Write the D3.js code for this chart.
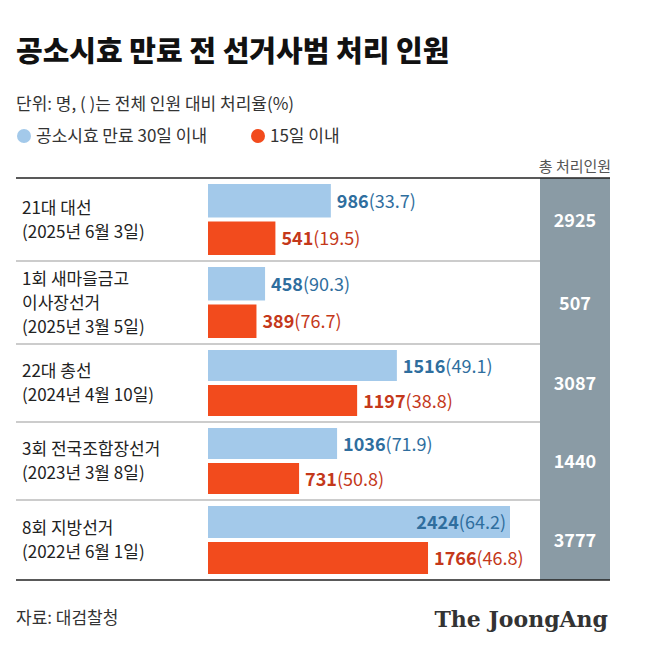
<html>
<head>
<script src="https://cdnjs.cloudflare.com/ajax/libs/d3/7.8.5/d3.min.js"></script>
<style>body{margin:0;background:#fff;font-family:"Noto Sans CJK KR","Noto Sans",sans-serif;}</style>
</head>
<body>
<div id="graph"></div>
<script>
// data
var labels1 = ["21대 대선", "1회 새마을금고", "22대 총선", "3회 전국조합장선거", "8회 지방선거"];
var labels2 = ["(2025년 6월 3일)", "이사장선거", "(2024년 4월 10일)", "(2023년 3월 8일)", "(2022년 6월 1일)"];
var labels3 = [null, "(2025년 3월 5일)", null, null, null];
var within30 = [986, 458, 1516, 1036, 2424];
var pct30 = [33.7, 90.3, 49.1, 71.9, 64.2];
var within15 = [541, 389, 1197, 731, 1766];
var pct15 = [19.5, 76.7, 38.8, 50.8, 46.8];
var totals = [2925, 507, 3087, 1440, 3777];
var bands = [[178, 261], [261, 344], [344, 422], [422, 500], [500, 580]];

var W = 650, H = 661;
var svg = d3.select("#graph").append("svg").attr("width", W).attr("height", H);
var x = d3.scaleLinear().domain([0, 2424]).range([208, 510]);
var blue = "#a3c9ea", red = "#f24b1d";

svg.append("text").attr("x", 16).attr("y", 62).attr("font-size", 29).attr("font-weight", 900)
  .attr("fill", "#111").text("공소시효 만료 전 선거사범 처리 인원");
svg.append("text").attr("x", 16).attr("y", 110).attr("font-size", 17).attr("fill", "#333")
  .text("단위: 명, ( )는 전체 인원 대비 처리율(%)");
svg.append("circle").attr("cx", 24).attr("cy", 136).attr("r", 7).attr("fill", blue);
svg.append("text").attr("x", 36).attr("y", 142).attr("font-size", 17).attr("fill", "#333").text("공소시효 만료 30일 이내");
svg.append("circle").attr("cx", 258).attr("cy", 136).attr("r", 7).attr("fill", red);
svg.append("text").attr("x", 270).attr("y", 142).attr("font-size", 17).attr("fill", "#333").text("15일 이내");

svg.append("text").attr("x", 575).attr("y", 172).attr("text-anchor", "middle").attr("font-size", 15)
  .attr("fill", "#555").text("총 처리인원");
svg.append("rect").attr("x", 540).attr("y", 178).attr("width", 70).attr("height", 402).attr("fill", "#8a9ba5");

var g = svg.selectAll(".grp").data(d3.range(5)).enter().append("g");
g.each(function(i) {
  var s = d3.select(this), top = bands[i][0], bot = bands[i][1], mid = (top + bot) / 2;
  var bh = (bot - top - 16) / 2;
  var yb = top + 6, yr = yb + bh + 4;
  s.append("rect").attr("x", x(0)).attr("y", yb).attr("width", x(within30[i]) - x(0)).attr("height", bh).attr("fill", blue);
  s.append("rect").attr("x", x(0)).attr("y", yr).attr("width", x(within15[i]) - x(0)).attr("height", bh).attr("fill", red);
  var inside = x(within30[i]) + 110 > 536;
  var t1 = s.append("text").attr("x", inside ? x(within30[i]) - 4 : x(within30[i]) + 6)
    .attr("text-anchor", inside ? "end" : "start").attr("y", yb + bh / 2 + 7).attr("font-size", 18);
  t1.append("tspan").attr("font-weight", 700).attr("fill", "#2f6e9e").text(within30[i]);
  t1.append("tspan").attr("fill", "#2f6e9e").text("(" + pct30[i] + ")");
  var t2 = s.append("text").attr("x", x(within15[i]) + 6).attr("y", yr + bh / 2 + 7).attr("font-size", 18);
  t2.append("tspan").attr("font-weight", 700).attr("fill", "#c4381a").text(within15[i]);
  t2.append("tspan").attr("fill", "#c4381a").text("(" + pct15[i] + ")");
  var lines = [labels1[i], labels2[i], labels3[i]].filter(function(d) { return d; });
  var y0 = mid - (lines.length - 1) * 12 + 6;
  lines.forEach(function(l, k) {
    s.append("text").attr("x", 22).attr("y", y0 + k * 24).attr("font-size", 17).attr("fill", "#222").text(l);
  });
  s.append("text").attr("x", 575).attr("y", mid + 7).attr("text-anchor", "middle").attr("font-size", 18)
    .attr("font-weight", 700).attr("fill", "#fff").text(totals[i]);
  if (i > 0) s.append("line").attr("x1", 16).attr("x2", 540).attr("y1", top).attr("y2", top).attr("stroke", "#999").attr("stroke-width", 1);
});
svg.append("line").attr("x1", 16).attr("x2", 610).attr("y1", 178).attr("y2", 178).attr("stroke", "#222").attr("stroke-width", 1.5);
svg.append("line").attr("x1", 16).attr("x2", 610).attr("y1", 580).attr("y2", 580).attr("stroke", "#222").attr("stroke-width", 1.5);

svg.append("text").attr("x", 16).attr("y", 624).attr("font-size", 17).attr("fill", "#333").text("자료: 대검찰청");
svg.append("text").attr("x", 608).attr("y", 627).attr("text-anchor", "end").attr("font-size", 22).attr("font-weight", 700)
  .attr("font-family", "'DejaVu Serif','Liberation Serif',serif").attr("fill", "#333").text("The JoongAng");
</script>
</body>
</html>
